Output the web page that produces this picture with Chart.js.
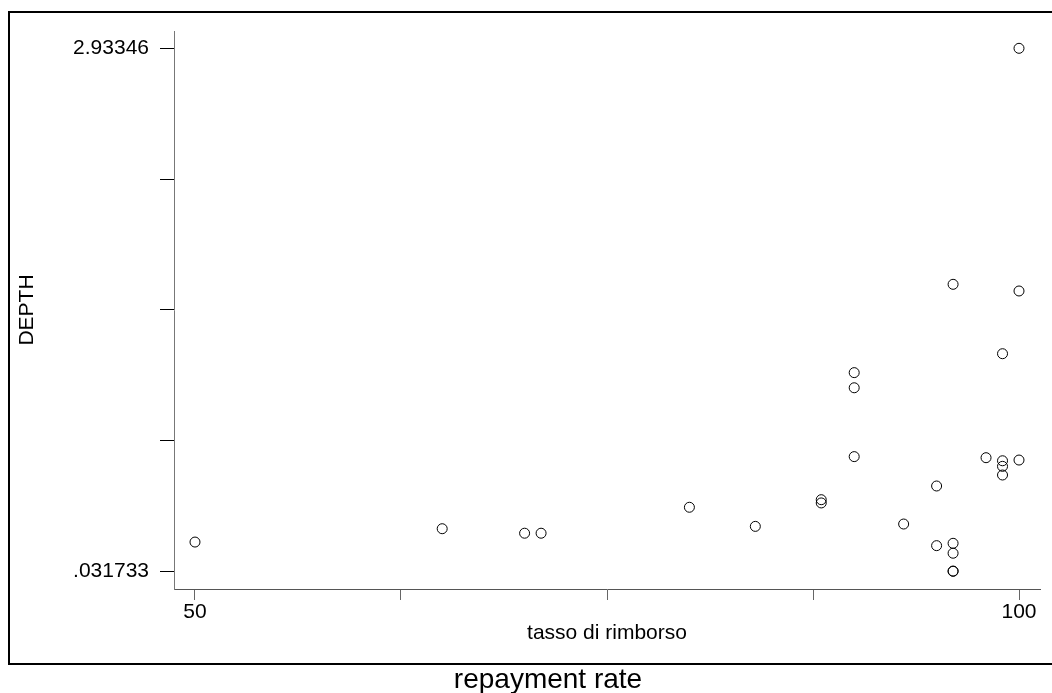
<!DOCTYPE html>
<html>
<head>
<meta charset="utf-8">
<script src="https://cdn.jsdelivr.net/npm/chart.js@4"></script>
<style>
  html, body { margin: 0; padding: 0; background: #fff; }
  canvas { display: block; }
</style>
</head>
<body>
<canvas id="c" width="1052" height="693"></canvas>
<script>
// repayment rate (x) vs DEPTH (y)
const rate  = [50, 65, 70, 71, 80, 84, 88, 88, 90, 90, 90, 93, 95, 95, 96, 96, 96, 96, 96, 98, 99, 99, 99, 99, 100, 100, 100];
const depth = [0.194, 0.268, 0.243, 0.243, 0.387, 0.281, 0.429, 0.411, 0.668, 1.134, 1.050, 0.294, 0.505, 0.174,
               0.187, 0.132, 0.0317, 0.033, 1.624, 0.662, 0.645, 0.614, 0.566, 1.239, 0.649, 2.93346, 1.587];

const xTicks = [50, 62.5, 75, 87.5, 100];
const xLabels = ['50', '', '', '', '100'];
const yTicks = [0.031733, 0.757165, 1.482597, 2.208028, 2.93346];
const yLabels = ['.031733', '', '', '', '2.93346'];

const FONT = "'Liberation Sans', Arial, sans-serif";

// outer frame + caption under it
const framePlugin = {
    id: 'frame',
    afterDraw(chart) {
        const ctx = chart.ctx;
        ctx.save();
        ctx.strokeStyle = '#000';
        ctx.lineWidth = 2;
        ctx.beginPath();
        ctx.moveTo(1060, 12); ctx.lineTo(9, 12); ctx.lineTo(9, 664); ctx.lineTo(1060, 664);
        ctx.stroke();
        ctx.fillStyle = '#000';
        ctx.font = '28px ' + FONT;
        ctx.textAlign = 'center';
        ctx.textBaseline = 'alphabetic';
        ctx.fillText('repayment rate', 548, 688);
        ctx.restore();
    }
};

new Chart(document.getElementById('c'), {
    type: 'scatter',
    data: {
        datasets: [{
            label: 'DEPTH',
            data: rate.map((r, i) => ({ x: r, y: depth[i] })),
            pointStyle: 'circle',
            pointRadius: 5,
            pointHoverRadius: 5,
            borderWidth: 1,
            borderColor: '#000',
            backgroundColor: 'rgba(0,0,0,0)'
        }]
    },
    options: {
        responsive: false,
        animation: false,
        layout: { padding: { top: 31, right: 12, bottom: 25, left: 0 } },
        plugins: { legend: { display: false }, tooltip: { enabled: false } },
        scales: {
            x: {
                type: 'linear',
                min: 48.726, max: 101.274,
                afterBuildTicks: s => { s.ticks = xTicks.map(v => ({ value: v })); },
                afterFit: s => { s.height = 79; },
                ticks: { autoSkip: false, maxRotation: 0, padding: 0, color: '#000',
                         font: { family: FONT, size: 21 }, callback: (v, i) => xLabels[i] },
                grid: { drawOnChartArea: false, drawTicks: true, tickLength: 11, tickColor: '#666' },
                border: { color: '#555', width: 1 },
                title: { display: true, text: 'tasso di rimborso', color: '#000',
                         font: { family: FONT, size: 21 }, padding: { top: 0, bottom: 22 } }
            },
            y: {
                type: 'linear',
                min: -0.0665, max: 3.0295,
                afterBuildTicks: s => { s.ticks = yTicks.map(v => ({ value: v })); },
                afterFit: s => { s.width = 174; },
                ticks: { autoSkip: false, padding: 11, color: '#000',
                         font: { family: FONT, size: 21 }, callback: (v, i) => yLabels[i] },
                grid: { drawOnChartArea: false, drawTicks: true, tickLength: 14, tickColor: '#000' },
                border: { color: '#777', width: 1 },
                title: { display: true, text: 'DEPTH', color: '#000',
                         font: { family: FONT, size: 21 }, padding: { top: 15, bottom: 0 } }
            }
        }
    },
    plugins: [framePlugin]
});
</script>
</body>
</html>
